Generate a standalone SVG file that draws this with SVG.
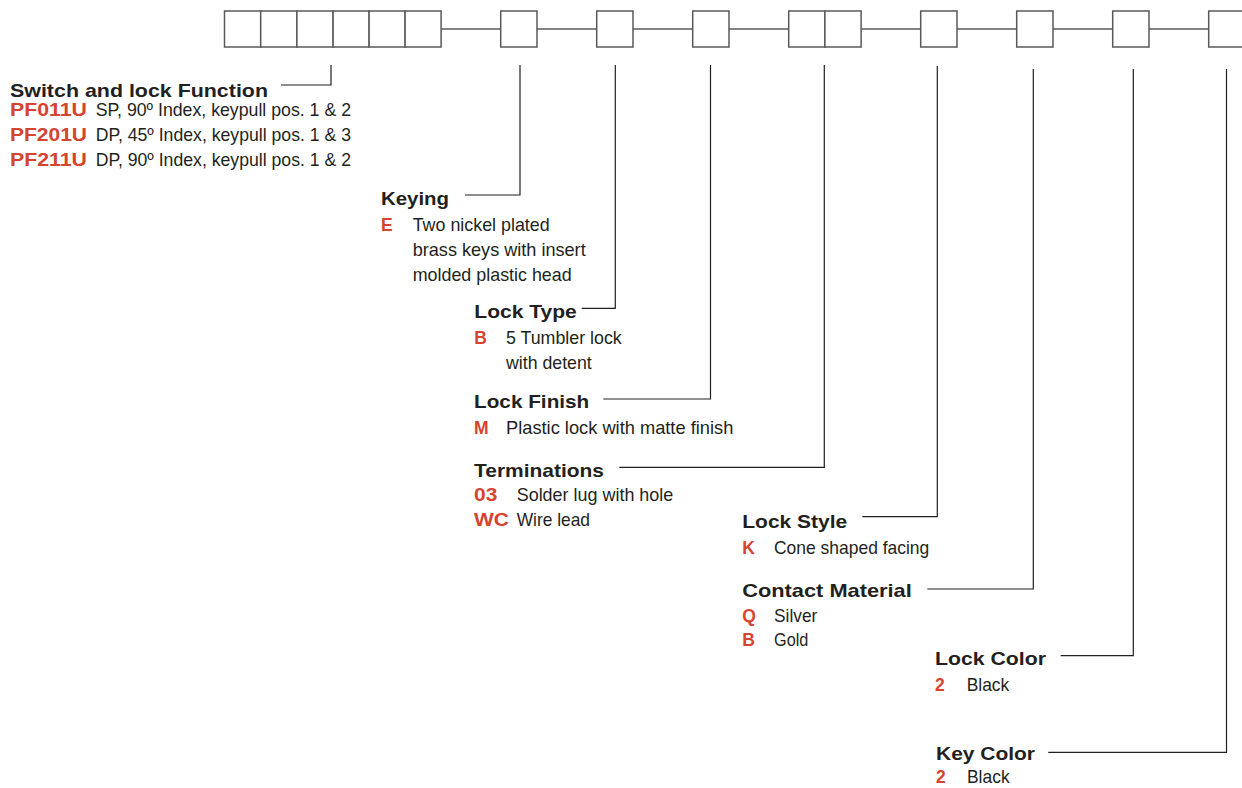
<svg xmlns="http://www.w3.org/2000/svg" width="1242" height="788" viewBox="0 0 1242 788">
<style>
.box{fill:#fff;stroke:#58595b;stroke-width:1.5}
.ln{fill:none;stroke:#231f20;stroke-width:1.2}
.bl{fill:none;stroke:#58595b;stroke-width:1.3}
.h{font-family:"Liberation Sans",Arial,sans-serif;font-weight:bold;font-size:19px;fill:#231f20}
.c{font-family:"Liberation Sans",Arial,sans-serif;font-weight:bold;font-size:17.5px;fill:#d6432f}
.t{font-family:"Liberation Sans",Arial,sans-serif;font-size:18.5px;fill:#231f20}
</style>
<rect width="1242" height="788" fill="#fff"/>
<g id="code-boxes">
<rect class="box" x="224.5" y="11" width="36.2" height="36"/>
<rect class="box" x="260.7" y="11" width="36.2" height="36"/>
<rect class="box" x="296.9" y="11" width="36.2" height="36"/>
<rect class="box" x="333.1" y="11" width="36" height="36"/>
<rect class="box" x="369.1" y="11" width="36" height="36"/>
<rect class="box" x="405.1" y="11" width="36" height="36"/>
<rect class="box" x="500.7" y="11" width="36.3" height="36"/>
<rect class="box" x="596.7" y="11" width="36.3" height="36"/>
<rect class="box" x="692.7" y="11" width="36.3" height="36"/>
<rect class="box" x="788.7" y="11" width="36.2" height="36"/>
<rect class="box" x="824.9" y="11" width="36.2" height="36"/>
<rect class="box" x="920.7" y="11" width="36.3" height="36"/>
<rect class="box" x="1016.7" y="11" width="36.3" height="36"/>
<rect class="box" x="1112.7" y="11" width="36.3" height="36"/>
<rect class="box" x="1208.7" y="11" width="36.3" height="36"/>
</g>
<g id="connectors">
<path class="bl" d="M441.1 29H500.7M537 29H596.7M633 29H692.7M729 29H788.7M861.1 29H920.7M957 29H1016.7M1053 29H1112.7M1149 29H1208.7"/>
<path class="ln" d="M281 85H331V65"/>
<path class="ln" d="M465 195H520V65"/>
<path class="ln" d="M581.7 308.3H615.3V65"/>
<path class="ln" d="M603.3 399H710.5V65"/>
<path class="ln" d="M619.3 467.3H824.3V65"/>
<path class="ln" d="M862.3 516.7H937.3V66"/>
<path class="ln" d="M927.3 589H1033.3V69"/>
<path class="ln" d="M1060.7 655.7H1133.3V69"/>
<path class="ln" d="M1048.3 752.3H1226.5V69"/>
</g>
<g id="switch-function">
<text class="h" x="10" y="97" textLength="258" lengthAdjust="spacingAndGlyphs">Switch and lock Function</text>
<text class="c" x="10" y="116" textLength="77" lengthAdjust="spacingAndGlyphs">PF011U</text>
<text class="t" x="95.7" y="116" textLength="255.3" lengthAdjust="spacingAndGlyphs">SP, 90º Index, keypull pos. 1 &amp; 2</text>
<text class="c" x="10" y="141.3" textLength="77" lengthAdjust="spacingAndGlyphs">PF201U</text>
<text class="t" x="95.7" y="141.3" textLength="255.3" lengthAdjust="spacingAndGlyphs">DP, 45º Index, keypull pos. 1 &amp; 3</text>
<text class="c" x="10" y="166.3" textLength="77" lengthAdjust="spacingAndGlyphs">PF211U</text>
<text class="t" x="95.7" y="166.3" textLength="255.3" lengthAdjust="spacingAndGlyphs">DP, 90º Index, keypull pos. 1 &amp; 2</text>
</g>
<g id="keying">
<text class="h" x="381" y="205" textLength="68" lengthAdjust="spacingAndGlyphs">Keying</text>
<text class="c" x="381" y="230.5">E</text>
<text class="t" x="412.7" y="230.5" textLength="137" lengthAdjust="spacingAndGlyphs">Two nickel plated</text>
<text class="t" x="412.7" y="255.5" textLength="173" lengthAdjust="spacingAndGlyphs">brass keys with insert</text>
<text class="t" x="412.7" y="281" textLength="159" lengthAdjust="spacingAndGlyphs">molded plastic head</text>
</g>
<g id="lock-type">
<text class="h" x="474.3" y="318.3" textLength="102.4" lengthAdjust="spacingAndGlyphs">Lock Type</text>
<text class="c" x="474.3" y="344">B</text>
<text class="t" x="506" y="344" textLength="115.7" lengthAdjust="spacingAndGlyphs">5 Tumbler lock</text>
<text class="t" x="506" y="369.3" textLength="85.7" lengthAdjust="spacingAndGlyphs">with detent</text>
</g>
<g id="lock-finish">
<text class="h" x="474" y="408.3" textLength="115.3" lengthAdjust="spacingAndGlyphs">Lock Finish</text>
<text class="c" x="474" y="434.3">M</text>
<text class="t" x="506" y="434.3" textLength="227.3" lengthAdjust="spacingAndGlyphs">Plastic lock with matte finish</text>
</g>
<g id="terminations">
<text class="h" x="474" y="476.7" textLength="130" lengthAdjust="spacingAndGlyphs">Terminations</text>
<text class="c" x="474" y="500.7" textLength="23.3" lengthAdjust="spacingAndGlyphs">03</text>
<text class="t" x="516.7" y="500.7" textLength="156.6" lengthAdjust="spacingAndGlyphs">Solder lug with hole</text>
<text class="c" x="474" y="525.7" textLength="35" lengthAdjust="spacingAndGlyphs">WC</text>
<text class="t" x="516.7" y="525.7" textLength="73.3" lengthAdjust="spacingAndGlyphs">Wire lead</text>
</g>
<g id="lock-style">
<text class="h" x="742.3" y="528.3" textLength="105" lengthAdjust="spacingAndGlyphs">Lock Style</text>
<text class="c" x="742.3" y="554.3">K</text>
<text class="t" x="774" y="554.3" textLength="155.3" lengthAdjust="spacingAndGlyphs">Cone shaped facing</text>
</g>
<g id="contact-material">
<text class="h" x="742.3" y="596.7" textLength="169.4" lengthAdjust="spacingAndGlyphs">Contact Material</text>
<text class="c" x="742.3" y="621.7">Q</text>
<text class="t" x="774" y="621.7" textLength="43.3" lengthAdjust="spacingAndGlyphs">Silver</text>
<text class="c" x="742.3" y="646">B</text>
<text class="t" x="774" y="646" textLength="34.3" lengthAdjust="spacingAndGlyphs">Gold</text>
</g>
<g id="lock-color">
<text class="h" x="935" y="665" textLength="111" lengthAdjust="spacingAndGlyphs">Lock Color</text>
<text class="c" x="935" y="691">2</text>
<text class="t" x="966.7" y="691" textLength="42.6" lengthAdjust="spacingAndGlyphs">Black</text>
</g>
<g id="key-color">
<text class="h" x="936" y="760" textLength="99" lengthAdjust="spacingAndGlyphs">Key Color</text>
<text class="c" x="936" y="783.3">2</text>
<text class="t" x="967" y="783.3" textLength="42.6" lengthAdjust="spacingAndGlyphs">Black</text>
</g>
</svg>
